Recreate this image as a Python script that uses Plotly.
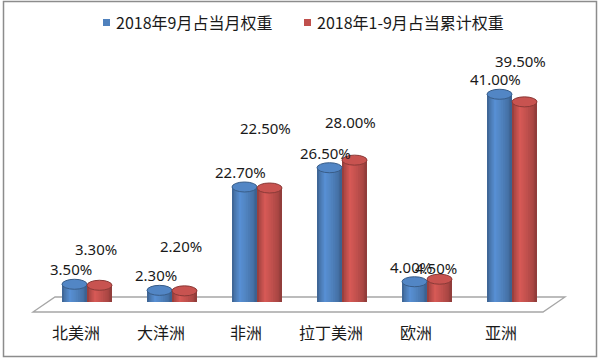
import plotly.graph_objects as go

# ---------------- data ----------------
categories = ["北美洲", "大洋洲", "非洲", "拉丁美洲", "欧洲", "亚洲"]
series_names = ["2018年9月占当月权重", "2018年1-9月占当累计权重"]
sep_share = [3.5, 2.3, 22.7, 26.5, 4.0, 41.0]
ytd_share = [3.3, 2.2, 22.5, 28.0, 4.5, 39.5]

# ---------------- style ----------------
W, H = 600, 359
BLUE = (79, 129, 189)
RED = (192, 80, 77)
CJK = "Noto Sans CJK SC"
LATIN = "Noto Sans"
# manual label lifts (px) used in the original chart for the 2nd series
red_label_lift = [36, 45, 60, 38, 11, 41]
blue_label_lift = 15

x_dom = [44.5 / W, 554.5 / W]
y_zero_px, y_top_px = 302, 74
y_dom = [1 - y_zero_px / H, 1 - y_top_px / H]
y_range = [0, 45]

bw = 25 / 85.0  # bar width in category units


def px_x(x):
    return x / W


def px_y(y):
    return 1 - y / H


def shade(rgb, f):
    return "rgb(%d,%d,%d)" % tuple(max(0, min(255, round(c * f))) for c in rgb)


def profile(t):
    pts = [(0, 0.74), (0.12, 0.92), (0.32, 1.12), (0.6, 1.0), (0.88, 0.86), (1, 0.72)]
    for (a, fa), (b, fb) in zip(pts, pts[1:]):
        if a <= t <= b:
            return fa + (fb - fa) * (t - a) / (b - a)
    return 1.0


fig = go.Figure()
n = len(categories)
xs = list(range(n))
NS = 14
for s, (vals, col, off0) in enumerate([(sep_share, BLUE, -bw), (ytd_share, RED, 0.0)]):
    for k in range(NS):
        t = (k + 0.5) / NS
        fig.add_trace(go.Bar(
            x=xs, y=vals,
            width=[bw * (1 - k / NS)] * n,
            offset=[off0 + bw * k / NS] * n,
            marker=dict(color=shade(col, profile(t)), line=dict(width=0)),
            showlegend=False, hoverinfo="skip", name=series_names[s],
        ))

shapes = []
# outer frame
shapes.append(dict(type="rect", xref="paper", yref="paper",
                   x0=px_x(3.5), x1=px_x(596.5), y0=px_y(356.5), y1=px_y(1.5),
                   line=dict(color="#8c8c8c", width=1.5), fillcolor="rgba(0,0,0,0)", layer="below"))
# floor
path = "M %f %f L %f %f L %f %f L %f %f Z" % (
    px_x(33), px_y(312), px_x(55), px_y(297), px_x(565), px_y(297), px_x(543), px_y(312))
shapes.append(dict(type="path", xref="paper", yref="paper", path=path,
                   line=dict(color="#a6a6a6", width=1.3), fillcolor="white", layer="below"))

for vals, col, off0 in [(sep_share, BLUE, -bw), (ytd_share, RED, 0.0)]:
    for i, v in enumerate(vals):
        # bottom rounding
        shapes.append(dict(type="circle", xref="x", yref="y", ysizemode="pixel", yanchor=0,
                           x0=i + off0, x1=i + off0 + bw, y0=-5, y1=5,
                           fillcolor=shade(col, 0.95), line=dict(width=0), layer="below"))
        # top cap
        shapes.append(dict(type="circle", xref="x", yref="y", ysizemode="pixel", yanchor=v,
                           x0=i + off0, x1=i + off0 + bw, y0=-5, y1=5,
                           fillcolor=shade(col, 1.04), line=dict(color=shade(col, 0.72), width=1),
                           layer="above"))

annotations = []
for i, v in enumerate(sep_share):
    annotations.append(dict(x=i - bw / 2, y=v, xref="x", yref="y", text="%.2f%%" % v,
                            showarrow=False, xshift=-4, yshift=blue_label_lift,
                            yanchor="middle", font=dict(family=LATIN, size=15, color="#1a1a1a")))
for i, v in enumerate(ytd_share):
    annotations.append(dict(x=i + bw / 2, y=v, xref="x", yref="y", text="%.2f%%" % v,
                            showarrow=False, xshift=-4, yshift=red_label_lift[i],
                            yanchor="middle", font=dict(family=LATIN, size=15, color="#1a1a1a")))
for i, c in enumerate(categories):
    annotations.append(dict(x=i, y=px_y(332), xref="x", yref="paper", text=c,
                            showarrow=False, xshift=-11, yanchor="middle",
                            font=dict(family=CJK, size=16, color="#1a1a1a")))

# legend (drawn manually)
legend_pos = [(103, 114), (304, 315)]
for (sq_x, tx_x), name, col in zip(legend_pos, series_names, [BLUE, RED]):
    shapes.append(dict(type="rect", xref="paper", yref="paper",
                       x0=px_x(sq_x), x1=px_x(sq_x + 7), y0=px_y(26), y1=px_y(19),
                       fillcolor=shade(col, 1.0), line=dict(width=0)))
    annotations.append(dict(x=px_x(tx_x), y=px_y(22.5), xref="paper", yref="paper", text=name,
                            showarrow=False, xanchor="left", yanchor="middle",
                            font=dict(family=CJK, size=16, color="#1a1a1a")))

fig.update_layout(
    width=W, height=H,
    margin=dict(l=0, r=0, t=0, b=0),
    paper_bgcolor="white", plot_bgcolor="rgba(0,0,0,0)",
    barmode="overlay",
    showlegend=False,
    xaxis=dict(domain=x_dom, range=[-0.5, n - 0.5], showticklabels=False, showgrid=False,
               zeroline=False, showline=False, ticks=""),
    yaxis=dict(domain=y_dom, range=y_range, showticklabels=False, showgrid=False,
               zeroline=False, showline=False, ticks=""),
    shapes=shapes,
    annotations=annotations,
)

fig.write_html("out.html",
               config={"displayModeBar": False},
               post_script="document.body.style.margin='0';document.body.style.overflow='hidden';")
